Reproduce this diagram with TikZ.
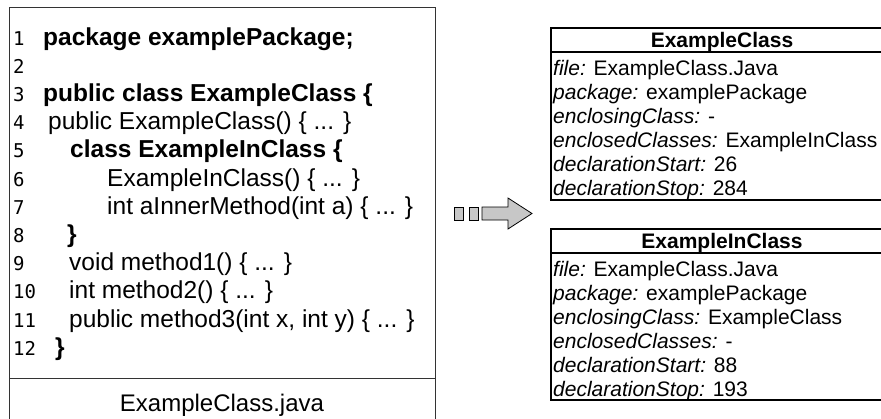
\documentclass[tikz,border=0pt]{standalone}
\usepackage{fontspec}
\setmainfont{Liberation Sans}
\newfontfamily\numfont{DejaVu Sans Mono}
\tikzset{
  codeline/.style={anchor=base west, inner sep=0pt, font=\fontsize{24.5}{28}\selectfont},
  codebold/.style={codeline, font=\fontsize{24.5}{28}\selectfont\bfseries},
  lnum/.style={anchor=base west, inner sep=0pt, font=\numfont\fontsize{19}{22}\selectfont},
  attr/.style={anchor=base west, inner sep=0pt, font=\fontsize{21}{24}\selectfont},
  headtxt/.style={anchor=base, inner sep=0pt, font=\fontsize{21}{24}\selectfont\bfseries},
  srcbox/.style={draw=black!80, line width=1pt},
  classbox/.style={draw=black, line width=1.5pt},
  arrowpart/.style={draw=black, fill=black!22, line width=0.8pt}
}
\begin{document}
\begin{tikzpicture}[x=1pt,y=-1pt]
\useasboundingbox (0,0) rectangle (881,418);
\clip (0,0) rectangle (881,418);
\fill[white] (0,0) rectangle (881,418);

% source box
\coordinate (srcTL) at (9,7);
\coordinate (srcTR) at (435,7);
\coordinate (srcBL) at (9,430);
\coordinate (srcBR) at (435,430);
\draw[srcbox] (srcBL) -- (srcTL) -- (srcTR) -- (srcBR);
\coordinate (divL) at (9,378);
\coordinate (divR) at (435,378);
\draw[srcbox] (divL) -- (divR);
\node[anchor=base, inner sep=0pt, font=\fontsize{24}{28}\selectfont] (fname) at (222,411) {ExampleClass.java};

% line numbers
\node[lnum] (n1) at (13,45) {1};
\node[lnum] (n2) at (13,73.2) {2};
\node[lnum] (n3) at (13,101.4) {3};
\node[lnum] (n4) at (13,129.6) {4};
\node[lnum] (n5) at (13,157.8) {5};
\node[lnum] (n6) at (13,186) {6};
\node[lnum] (n7) at (13,214.2) {7};
\node[lnum] (n8) at (13,242.4) {8};
\node[lnum] (n9) at (13,270.6) {9};
\node[lnum] (n10) at (13,298.8) {10};
\node[lnum] (n11) at (13,327) {11};
\node[lnum] (n12) at (13,355.2) {12};

% code
\node[codebold] (c1) at (43,45) {package examplePackage;};
\node[codebold] (c3) at (43,101.4) {public class ExampleClass \{};
\node[codeline] (c4) at (48,129.6) {public ExampleClass() \{ ... \}};
\node[codebold] (c5) at (70,157.8) {class ExampleInClass \{};
\node[codeline] (c6) at (107,186) {ExampleInClass() \{ ... \}};
\node[codeline] (c7) at (107,214.2) {int aInnerMethod(int a) \{ ... \}};
\node[codebold] (c8) at (67,242.4) {\}};
\node[codeline] (c9) at (69,270.6) {void method1() \{ ... \}};
\node[codeline] (c10) at (69,298.8) {int method2() \{ ... \}};
\node[codeline] (c11) at (69,327) {public method3(int x, int y) \{ ... \}};
\node[codebold] (c12) at (55,355.2) {\}};

% arrow
\draw[arrowpart] (454,207) rectangle (463,220);
\draw[arrowpart] (469,207) rectangle (478,220);
\draw[arrowpart] (482,207) -- (508,207) -- (508,198) -- (532,213.5) -- (508,229) -- (508,220) -- (482,220) -- cycle;

% class box 1
\draw[classbox] (551,28) rectangle (893,200);
\draw[classbox] (551,52) -- (893,52);
\node[headtxt] (h1) at (722,47.5) {ExampleClass};
\node[attr] (a11) at (553,75) {\textit{file:} ExampleClass.Java};
\node[attr] (a12) at (553,99) {\textit{package:} examplePackage};
\node[attr] (a13) at (553,123) {\textit{enclosingClass:} -};
\node[attr] (a14) at (553,147) {\textit{enclosedClasses:} ExampleInClass};
\node[attr] (a15) at (553,171) {\textit{declarationStart:} 26};
\node[attr] (a16) at (553,195) {\textit{declarationStop:} 284};

% class box 2
\draw[classbox] (551,229) rectangle (893,400);
\draw[classbox] (551,253) -- (893,253);
\node[headtxt] (h2) at (722,248.5) {ExampleInClass};
\node[attr] (a21) at (553,276) {\textit{file:} ExampleClass.Java};
\node[attr] (a22) at (553,300) {\textit{package:} examplePackage};
\node[attr] (a23) at (553,324) {\textit{enclosingClass:} ExampleClass};
\node[attr] (a24) at (553,348) {\textit{enclosedClasses:} -};
\node[attr] (a25) at (553,372) {\textit{declarationStart:} 88};
\node[attr] (a26) at (553,396) {\textit{declarationStop:} 193};
\end{tikzpicture}
\end{document}
